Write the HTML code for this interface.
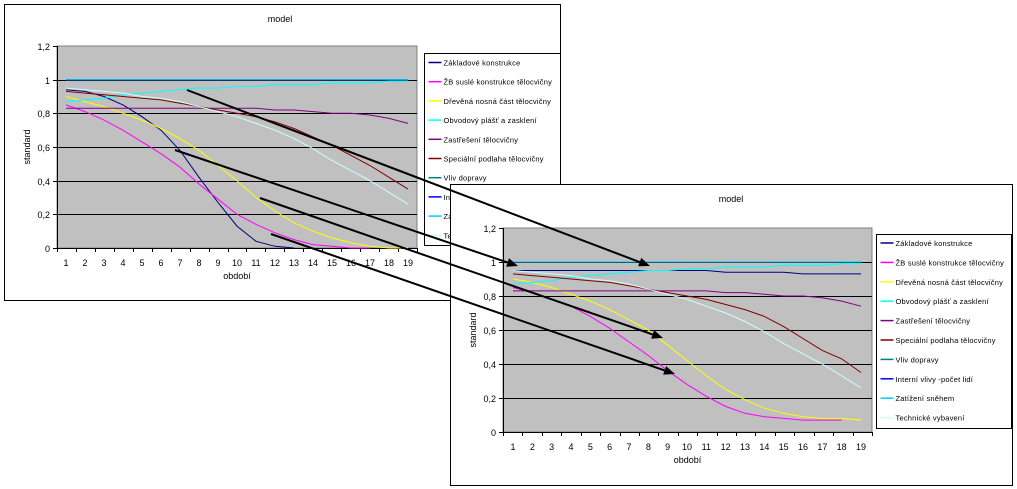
<!DOCTYPE html>
<html><head><meta charset="utf-8"><style>
html,body{margin:0;padding:0;background:#fff;}
svg{display:block;font-family:"Liberation Sans","DejaVu Sans",sans-serif;}
</style></head><body>
<svg id="root" width="1017" height="489" viewBox="0 0 1017 489" xmlns="http://www.w3.org/2000/svg">
</svg>
<script>
const categories = [1,2,3,4,5,6,7,8,9,10,11,12,13,14,15,16,17,18,19];
const yTicks = [0,0.2,0.4,0.6,0.8,1,1.2];
const yTickLabels = ["0","0,2","0,4","0,6","0,8","1","1,2"];
const seriesNames = ["Základové konstrukce","ŽB suslé konstrukce tělocvičny","Dřevěná nosná část tělocvičny","Obvodový plášť a zasklení","Zastřešení tělocvičny","Speciální podlaha tělocvičny","Vliv dopravy","Interní vlivy -počet lidí","Zatížení sněhem","Technické vybavení"];
const seriesColors = ["#000080","#ff00ff","#ffff00","#00ffff","#800080","#800000","#008080","#0000ff","#00ccff","#ccffff"];

const c1Zakladove = [0.94,0.93,0.90,0.85,0.78,0.70,0.58,0.42,0.27,0.13,0.04,0.01,0.0];
const c1Zb = [0.85,0.81,0.76,0.70,0.63,0.56,0.48,0.38,0.29,0.20,0.14,0.09,0.05,0.02,0.01,0.0,0.0];
const c1Drevo = [0.90,0.87,0.84,0.80,0.76,0.71,0.65,0.58,0.49,0.40,0.30,0.22,0.15,0.10,0.06,0.03,0.01,0.0,0.0];
const c1Obvod = [0.87,0.88,0.89,0.91,0.92,0.93,0.94,0.95,0.95,0.96,0.96,0.97,0.97,0.97,0.98,0.98,0.98,0.99,0.99];
const c1Zastreseni = [0.83,0.83,0.83,0.83,0.83,0.83,0.83,0.83,0.83,0.83,0.83,0.82,0.82,0.81,0.80,0.80,0.79,0.77,0.74];
const c1Podlaha = [0.93,0.92,0.91,0.90,0.89,0.88,0.86,0.84,0.82,0.80,0.78,0.75,0.71,0.66,0.61,0.55,0.49,0.42,0.35];
const c1Doprava = [1,1,1,1,1,1,1,1,1,1,1,1,1,1,1,1,1,1,1];
const c1Interni = [1,1,1,1,1,1,1,1,1,1,1,1,1,1,1,1,1,1,1];
const c1Snih = [1,1,1,1,1,1,1,1,1,1,1,1,1,1,1,1,1,1,1];
const c1Tech = [0.95,0.94,0.93,0.92,0.90,0.89,0.87,0.84,0.81,0.78,0.74,0.70,0.65,0.59,0.52,0.46,0.40,0.33,0.26];

const c2Zakladove = [0.95,0.95,0.95,0.95,0.95,0.95,0.95,0.95,0.95,0.95,0.95,0.94,0.94,0.94,0.94,0.93,0.93,0.93,0.93];
const c2Zb = [0.85,0.82,0.78,0.74,0.68,0.61,0.53,0.45,0.36,0.28,0.21,0.15,0.11,0.09,0.08,0.07,0.07,0.07];
const c2Drevo = [0.90,0.88,0.85,0.81,0.77,0.72,0.66,0.60,0.51,0.42,0.33,0.25,0.19,0.14,0.11,0.09,0.08,0.08,0.07];
const c2Obvod = c1Obvod.slice();
const c2Zastreseni = c1Zastreseni.slice();
const c2Podlaha = [0.93,0.92,0.91,0.90,0.89,0.88,0.86,0.84,0.82,0.80,0.78,0.75,0.72,0.68,0.62,0.55,0.48,0.43,0.35];
const c2Doprava = c1Doprava.slice();
const c2Interni = c1Interni.slice();
const c2Snih = c1Snih.slice();
const c2Tech = [0.95,0.94,0.93,0.92,0.90,0.89,0.87,0.84,0.81,0.78,0.74,0.70,0.65,0.59,0.52,0.46,0.40,0.33,0.26];

const NS = "http://www.w3.org/2000/svg";
const root = document.getElementById("root");
function mk(tag, attrs, parent, text){
  const e = document.createElementNS(NS, tag);
  for (const k in attrs) e.setAttribute(k, attrs[k]);
  if (text !== undefined) e.textContent = text;
  (parent||root).appendChild(e);
  return e;
}

function drawChart(cfg, data, prefix){
  const g = mk("g", {});
  
  
  const fr = mk("rect", {x:cfg.fx, y:cfg.fy, width:cfg.fw, height:cfg.fh, fill:"#fff", stroke:"#000", "stroke-width":1}, g);
  
  
  const t = mk("text", {x:cfg.titleX, y:cfg.titleY, "font-size":9, "text-anchor":"middle"}, g, "model");
  
  
  const x = i => cfg.cx1 + (i) * (cfg.cx19 - cfg.cx1) / (categories.length - 1);
  const y = v => cfg.py0 - v / 1.2 * (cfg.py0 - cfg.py1);
  const pa = mk("rect", {x:cfg.px0, y:cfg.py1, width:cfg.px1-cfg.px0, height:cfg.py0-cfg.py1, fill:"#c0c0c0", stroke:"#808080", "stroke-width":1}, g);
  
  
  yTicks.forEach((v, i) => {
    const yy = Math.round(y(v)) + 0.5;
    if (v > 0 && v < 1.2) {
      const gl = mk("line", {x1:cfg.px0, x2:cfg.px1, y1:yy, y2:yy, stroke:"#000", "stroke-width":1}, g);
      
      
    }
    mk("line", {x1:cfg.px0-4, x2:cfg.px0, y1:yy, y2:yy, stroke:"#000"}, g);
    const tl = mk("text", {x:cfg.px0-7, y:yy+3.5, "font-size":9, "text-anchor":"end"}, g, yTickLabels[i]);
    
    
  });
  mk("line", {x1:cfg.px0+0.5, x2:cfg.px0+0.5, y1:cfg.py1, y2:cfg.py0, stroke:"#000"}, g);
  mk("line", {x1:cfg.px0, x2:cfg.px1, y1:cfg.py0+0.5, y2:cfg.py0+0.5, stroke:"#000"}, g);
  const step = (cfg.px1 - cfg.px0) / categories.length;
  for (let i = 0; i <= categories.length; i++) {
    const xx = Math.round(cfg.px0 + i*step) + 0.5;
    mk("line", {x1:xx, x2:xx, y1:cfg.py0, y2:cfg.py0+4, stroke:"#000"}, g);
  }
  categories.forEach((c, i) => {
    const tl = mk("text", {x:x(i), y:cfg.py0+18, "font-size":9, "text-anchor":"middle"}, g, String(c));
    
    
  });
  const xt = mk("text", {x:(cfg.px0+cfg.px1)/2, y:cfg.py0+31, "font-size":9, "text-anchor":"middle"}, g, "období");
  
  
  const yt = mk("text", {x:0, y:0, "font-size":9, "text-anchor":"middle", transform:`translate(${cfg.px0-27},${(cfg.py0+cfg.py1)/2}) rotate(-90)`}, g, "standard");
  
  
  // series (draw in legend order)
  data.forEach((arr, si) => {
    const pts = arr.map((v, i) => x(i).toFixed(1) + "," + y(v).toFixed(1)).join(" ");
    const pl = mk("polyline", {points:pts, fill:"none", stroke:seriesColors[si], "stroke-width":1}, g);
    
    
  });
  // legend
  const lg = mk("rect", {x:cfg.lx, y:cfg.ly, width:cfg.lw, height:cfg.lh, fill:"#fff", stroke:"#000"}, g);
  
  
  seriesNames.forEach((n, i) => {
    const yy = cfg.ly + cfg.l0 + i*cfg.ls;
    mk("line", {x1:cfg.lx+4, x2:cfg.lx+17, y1:yy, y2:yy, stroke:seriesColors[i], "stroke-width":1.5}, g);
    const le = mk("text", {x:cfg.lx+19, y:yy+3, "font-size":7.5, "letter-spacing":"0.2"}, g, n);
    
    
  });
}

drawChart({fx:4.5,fy:4.5,fw:556,fh:296,titleX:280,titleY:22,px0:57,px1:417,py1:46,py0:248,cx1:66,cx19:408,lx:424.5,ly:53.5,lw:136,lh:192,l0:9,ls:19.2},
  [c1Zakladove,c1Zb,c1Drevo,c1Obvod,c1Zastreseni,c1Podlaha,c1Doprava,c1Interni,c1Snih,c1Tech], "chart-1");
drawChart({fx:450.5,fy:184.5,fw:562,fh:301,titleX:731,titleY:202,px0:503,px1:872,py1:228,py0:432,cx1:513,cx19:861,lx:876.5,ly:234.5,lw:135,lh:194,l0:8.5,ls:19.4},
  [c2Zakladove,c2Zb,c2Drevo,c2Obvod,c2Zastreseni,c2Podlaha,c2Doprava,c2Interni,c2Snih,c2Tech], "chart-2");

// arrows
const arrows = [[187,90,650,266],[175,150,518,266],[260,198,663,338],[271,234,675,374]];
arrows.forEach(a => {
  const [x1,y1,x2,y2] = a;
  const ang = Math.atan2(y2-y1, x2-x1);
  const L = 11, W = 4.5;
  const bx = x2 - L*Math.cos(ang), by = y2 - L*Math.sin(ang);
  const ln = mk("line", {x1:x1, y1:y1, x2:bx, y2:by, stroke:"#000", "stroke-width":2});
  
  
  const p = [x2+","+y2, (bx - W*Math.sin(ang))+","+(by + W*Math.cos(ang)), (bx + W*Math.sin(ang))+","+(by - W*Math.cos(ang))].join(" ");
  const hd = mk("polygon", {points:p, fill:"#000"});
  
  
});
</script>
</body></html>
